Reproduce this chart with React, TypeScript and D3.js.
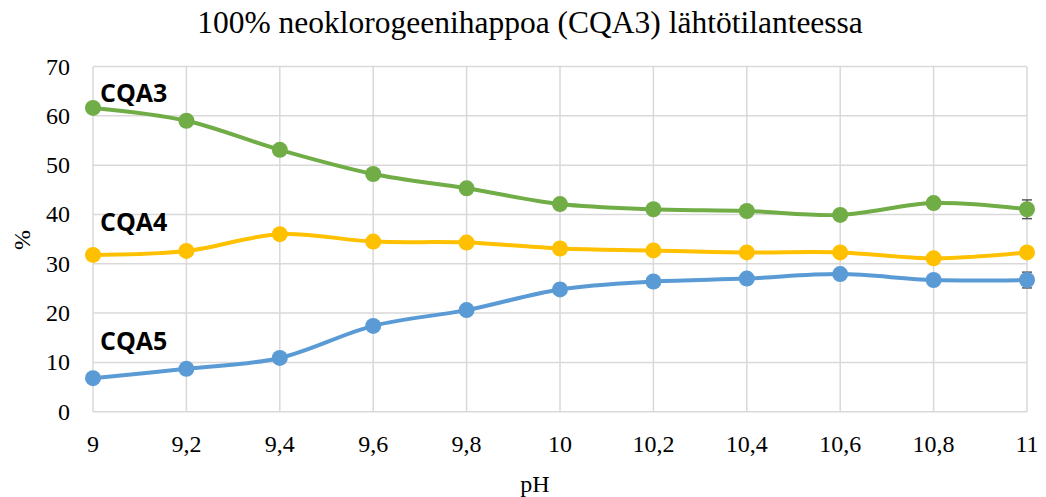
import React from "react";
import * as d3 from "d3";

const pH = [9, 9.2, 9.4, 9.6, 9.8, 10, 10.2, 10.4, 10.6, 10.8, 11];
const cqa3 = [61.6, 59.0, 53.1, 48.2, 45.3, 42.1, 41.05, 40.7, 39.9, 42.3, 41.05];
const cqa4 = [31.8, 32.6, 36.0, 34.5, 34.3, 33.1, 32.7, 32.3, 32.3, 31.1, 32.3];
const cqa5 = [6.8, 8.7, 10.9, 17.4, 20.6, 24.8, 26.4, 27.0, 27.9, 26.7, 26.7];
const err3 = [0, 0, 0, 0, 0, 0, 0, 0, 0, 0, 1.9];
const err4 = [0, 0, 0, 0, 0, 0, 0, 0, 0, 0, 0];
const err5 = [0, 0, 0, 0, 0, 0, 0, 0, 0, 0, 1.6];
const yTicks = [0, 10, 20, 30, 40, 50, 60, 70];
const xTicks = [9, 9.2, 9.4, 9.6, 9.8, 10, 10.2, 10.4, 10.6, 10.8, 11];
const seriesNames = ["CQA3", "CQA4", "CQA5"];
const title = "100% neoklorogeenihappoa (CQA3) lähtötilanteessa";

const W = 1046;
const H = 497;
const left = 93;
const right = 1027;
const top = 66.5;
const bottom = 411.7;

export default function App() {
  const x = d3.scaleLinear().domain([9, 11]).range([left, right]);
  const y = d3.scaleLinear().domain([0, 70]).range([bottom, top]);
  const line = d3
    .line<number>()
    .x((_, i) => x(pH[i]))
    .y((d) => y(d))
    .curve(d3.curveCardinal.tension(0));

  const series = [
    { name: seriesNames[0], vals: cqa3, err: err3, color: "#70AD47", lx: 100, ly: 102 },
    { name: seriesNames[1], vals: cqa4, err: err4, color: "#FFC000", lx: 100, ly: 231 },
    { name: seriesNames[2], vals: cqa5, err: err5, color: "#5B9BD5", lx: 100, ly: 350 },
  ];
  const fmt = (v: number) => String(v).replace(".", ",");
  const serifStyle = { fontFamily: "Liberation Serif, Tinos, Times New Roman, DejaVu Serif, serif" };

  return (
    <svg
      width={W}
      height={H}
      style={{ position: "absolute", left: 0, top: 0, background: "#fff" }}
    >
      <rect x={0} y={0} width={W} height={H} fill="#fff" />
      <text x={530} y={33} textAnchor="middle" style={serifStyle} fontSize={31.5} fill="#000">
        {title}
      </text>
      {yTicks.map((t) => (
        <line key={"gy" + t} x1={left} x2={right} y1={y(t)} y2={y(t)} stroke="#D9D9D9" strokeWidth={1.5} />
      ))}
      {xTicks.map((t) => (
        <line key={"gx" + t} x1={x(t)} x2={x(t)} y1={top} y2={bottom} stroke="#D9D9D9" strokeWidth={1.5} />
      ))}
      {yTicks.map((t) => (
        <text key={"ty" + t} x={70} y={y(t) + 8} textAnchor="end" style={serifStyle} fontSize={24} fill="#000">
          {t}
        </text>
      ))}
      {xTicks.map((t) => (
        <text key={"tx" + t} x={x(t)} y={452} textAnchor="middle" style={serifStyle} fontSize={24} fill="#000">
          {fmt(t)}
        </text>
      ))}
      <text x={535} y={492} textAnchor="middle" style={serifStyle} fontSize={24} fill="#000">
        pH
      </text>
      <text
        transform={`translate(30,240) rotate(-90)`}
        textAnchor="middle"
        style={serifStyle}
        fontSize={24}
        fill="#000"
      >
        %
      </text>
      {series.map((s) => (
        <g key={s.name}>
          <path d={line(s.vals) || ""} fill="none" stroke={s.color} strokeWidth={4} />
          {s.vals.map((v, i) =>
            s.err[i] > 0 ? (
              <g key={"e" + i} stroke="#595959" strokeWidth={1.5}>
                <line x1={x(pH[i])} x2={x(pH[i])} y1={y(v - s.err[i])} y2={y(v + s.err[i])} />
                <line x1={x(pH[i]) - 5} x2={x(pH[i]) + 5} y1={y(v - s.err[i])} y2={y(v - s.err[i])} />
                <line x1={x(pH[i]) - 5} x2={x(pH[i]) + 5} y1={y(v + s.err[i])} y2={y(v + s.err[i])} />
              </g>
            ) : null
          )}
          {s.vals.map((v, i) => (
            <circle key={"c" + i} cx={x(pH[i])} cy={y(v)} r={8} fill={s.color} />
          ))}
          <text
            x={s.lx}
            y={s.ly}
            fontFamily="'Open Sans', sans-serif"
            fontWeight={700}
            fontSize={25}
            fill="#000"
          >
            {s.name}
          </text>
        </g>
      ))}
    </svg>
  );
}
